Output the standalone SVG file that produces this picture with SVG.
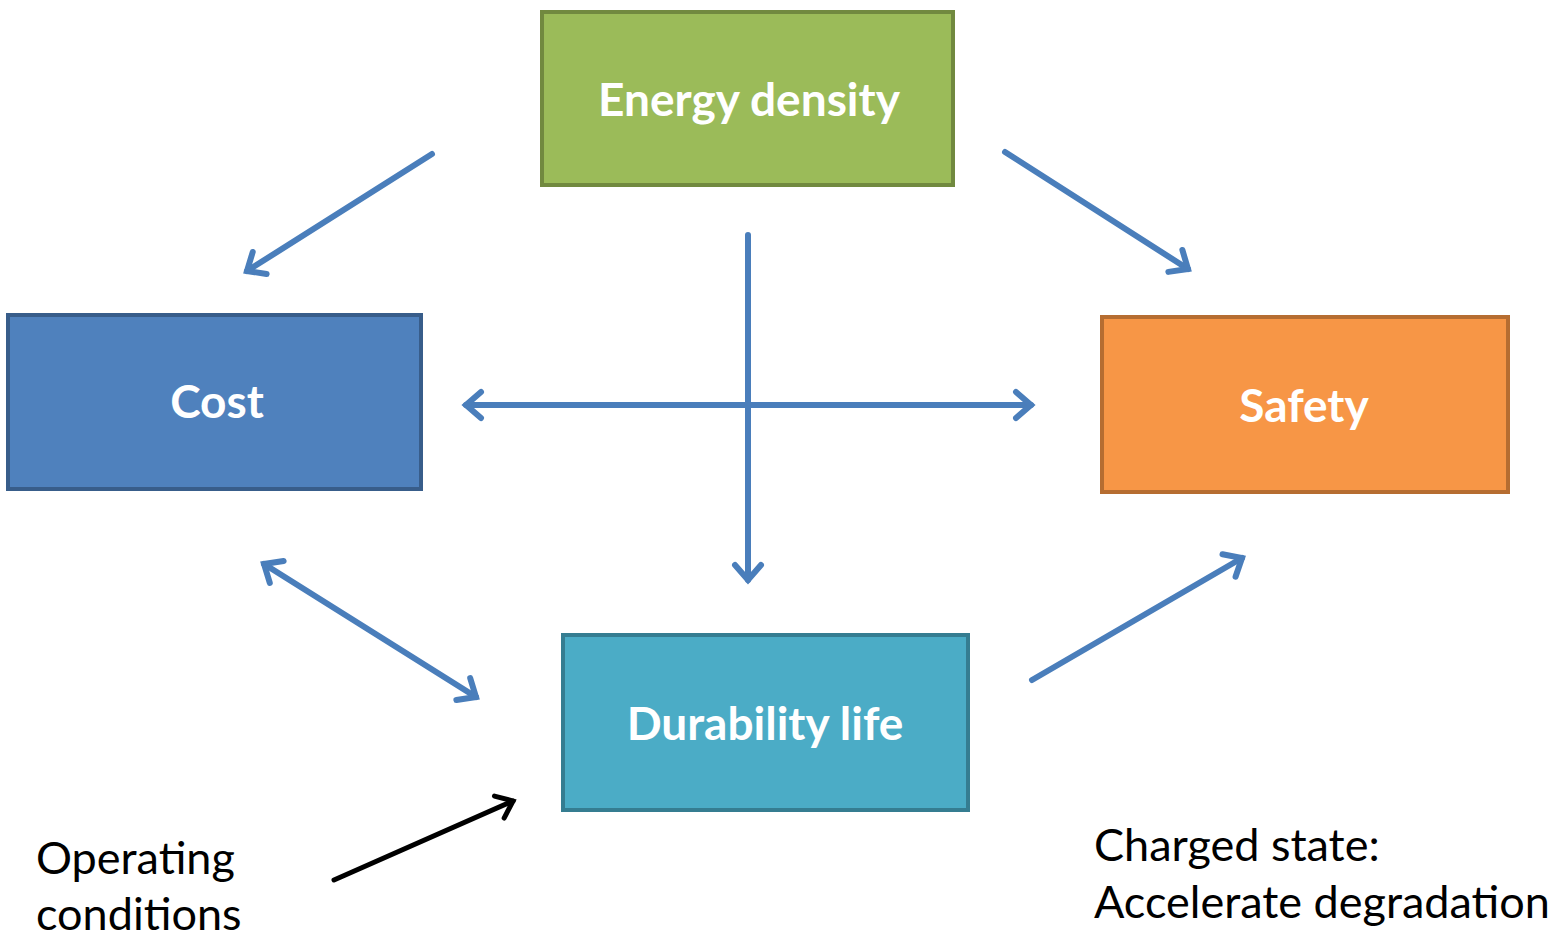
<svg xmlns="http://www.w3.org/2000/svg" width="1565" height="937" viewBox="0 0 1565 937">
<style>
.box{stroke-width:4}
.lbl{font-family:"Lato","Liberation Sans",sans-serif;font-weight:bold;font-size:46px;fill:#ffffff;text-anchor:middle}
.txt{font-family:"Lato","Liberation Sans",sans-serif;font-size:45px;fill:#000000}
.c{stroke:#4a7ebb;stroke-width:6;fill:none;stroke-linecap:round}
.k{stroke:#000000;stroke-width:5;fill:none;stroke-linecap:round}
</style>
<defs>
<marker id="hb" markerUnits="userSpaceOnUse" markerWidth="40" markerHeight="40" viewBox="-20 -20 40 40" refX="0" refY="0" orient="auto-start-reverse">
<path d="M -15 -13 L 0 0 L -15 13" stroke="#4a7ebb" stroke-width="6" fill="none" stroke-linecap="round" stroke-linejoin="miter"/>
</marker>
<marker id="hk" markerUnits="userSpaceOnUse" markerWidth="40" markerHeight="40" viewBox="-20 -20 40 40" refX="0" refY="0" orient="auto">
<path d="M -15 -12 L 0 0 L -15 12" stroke="#000000" stroke-width="5" fill="none" stroke-linecap="round"/>
</marker>
</defs>
<rect width="1565" height="937" fill="#ffffff"/>
<g id="connectors">
<line class="c" x1="432" y1="154" x2="247" y2="271" marker-end="url(#hb)"/>
<line class="c" x1="1005" y1="152" x2="1188" y2="269" marker-end="url(#hb)"/>
<line class="c" x1="748" y1="235" x2="748" y2="580" marker-end="url(#hb)"/>
<line class="c" x1="466" y1="405" x2="1031" y2="405" marker-start="url(#hb)" marker-end="url(#hb)"/>
<line class="c" x1="264" y1="564" x2="476" y2="697" marker-start="url(#hb)" marker-end="url(#hb)"/>
<line class="c" x1="1032" y1="680" x2="1242" y2="558" marker-end="url(#hb)"/>
<line class="k" x1="334" y1="880" x2="513" y2="801" marker-end="url(#hk)"/>
</g>
<g id="energy">
<rect class="box" x="542" y="12" width="411" height="173" fill="#9bbb59" stroke="#71893f"/>
<text class="lbl" x="749" y="116">Energy density</text>
</g>
<g id="cost">
<rect class="box" x="8" y="315" width="413" height="174" fill="#4f81bd" stroke="#385d8a"/>
<text class="lbl" x="217" y="418">Cost</text>
</g>
<g id="safety">
<rect class="box" x="1102" y="317" width="406" height="175" fill="#f79646" stroke="#b66d31"/>
<text class="lbl" x="1304" y="422">Safety</text>
</g>
<g id="durability">
<rect class="box" x="563" y="635" width="405" height="175" fill="#4bacc6" stroke="#357d91"/>
<text class="lbl" x="765" y="740">Durability life</text>
</g>
<g id="notes">
<text class="txt" x="36" y="874">Operating</text>
<text class="txt" x="36" y="930">conditions</text>
<text class="txt" x="1094" y="861">Charged state:</text>
<text class="txt" x="1094" y="918">Accelerate degradation</text>
</g>
</svg>
